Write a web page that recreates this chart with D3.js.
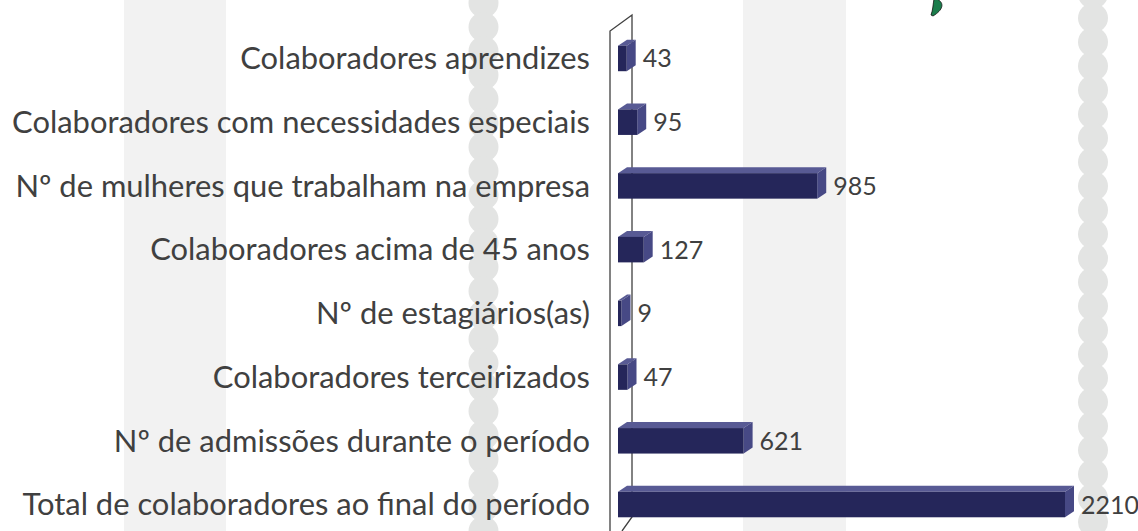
<!DOCTYPE html>
<html>
<head>
<meta charset="utf-8">
<script src="https://cdn.jsdelivr.net/npm/d3@7"></script>
<style>
  html, body { margin: 0; padding: 0; background: #fff; }
  svg { display: block; }
</style>
</head>
<body>
<div id="chart"></div>
<script>
// categorias (de cima para baixo) e valores
const categories = [
    'Colaboradores aprendizes',
    'Colaboradores com necessidades especiais',
    'Nº de mulheres que trabalham na empresa',
    'Colaboradores acima de 45 anos',
    'Nº de estagiários(as)',
    'Colaboradores terceirizados',
    'Nº de admissões durante o período',
    'Total de colaboradores ao final do período'
];
const values = [43, 95, 985, 127, 9, 47, 621, 2210];

const width = 1138, height = 531;

const svg = d3.select("#chart").append("svg").attr("width", width).attr("height", height);

// fundo decorativo: faixas cinza e colunas de "contas"
const bg = svg.append("g");
[[124, 226], [743, 846]].forEach(([a, b]) => {
    bg.append("rect").attr("x", a).attr("y", 0).attr("width", b - a).attr("height", height).attr("fill", "#f2f2f2");
});
[[483.5, 3], [1093, 18]].forEach(([cx, phase]) => {
    bg.selectAll(null).data(d3.range(-1, 24)).enter().append("circle")
        .attr("cx", cx).attr("cy", k => phase + k * 24).attr("r", 15).attr("fill", "#e3e4e3");
});
// folha verde no topo
bg.append("path")
    .attr("d", "M937,-1 C945,3 943,10 933,16 L931,15 C933,10 933,4 934,-1 Z")
    .attr("fill", "#1b7d4c").attr("stroke", "#111").attr("stroke-width", 0.8);

// escalas
const x = d3.scaleLinear().domain([0, 2210]).range([618, 1065]);
const y = d3.scaleBand().domain(categories).range([26.6, 536.4]).paddingInner(0.6).paddingOuter(0.3);
const dx = 9, dy = -6;        // profundidade das barras
const wx = 22, wy = -16;      // profundidade da parede

// parede do eixo (3D)
const wall = svg.append("g").attr("fill", "none").attr("stroke", "#404040").attr("stroke-width", 1.3);
wall.append("path").attr("d", `M${610},${height + 5} L610,31 L${610 + wx},${31 + wy} L${610 + wx},517 L${610 + 12},${531}`);

// barras
const bars = svg.append("g");
categories.forEach((c, i) => {
    const x0 = x(0), x1 = Math.max(x(values[i]), x0 + 3.5);
    const y0 = y(c), h = y.bandwidth();
    const g = bars.append("g");
    g.append("polygon")
        .attr("points", [[x0, y0], [x1, y0], [x1 + dx, y0 + dy], [x0 + dx, y0 + dy]].join(" "))
        .attr("fill", "#585a94");
    g.append("polygon")
        .attr("points", [[x1, y0], [x1 + dx, y0 + dy], [x1 + dx, y0 + h + dy], [x1, y0 + h]].join(" "))
        .attr("fill", "#474985");
    g.append("rect").attr("x", x0).attr("y", y0).attr("width", x1 - x0).attr("height", h).attr("fill", "#25265a");

    svg.append("text")
        .attr("x", x1 + dx + 7).attr("y", y0 + h / 2)
        .attr("dy", "0.36em")
        .style("font-family", "Lato, sans-serif").style("font-size", "25px").attr("fill", "#404040")
        .text(values[i]);
});

// rótulos das categorias, ajustados à largura original
const labels = svg.append("g")
    .style("font-family", "Lato, sans-serif").style("font-size", "26px").attr("fill", "#404040")
    .attr("text-anchor", "end");
labels.selectAll("text").data(categories).enter().append("text")
    .attr("x", 590).attr("y", d => y(d) + y.bandwidth() / 2).attr("dy", "0.35em")
    .text(d => d);
const longest = d3.max(labels.selectAll("text").nodes(), n => n.getComputedTextLength());
labels.style("font-size", (26 * 578 / longest).toFixed(2) + "px");
</script>
</body>
</html>
